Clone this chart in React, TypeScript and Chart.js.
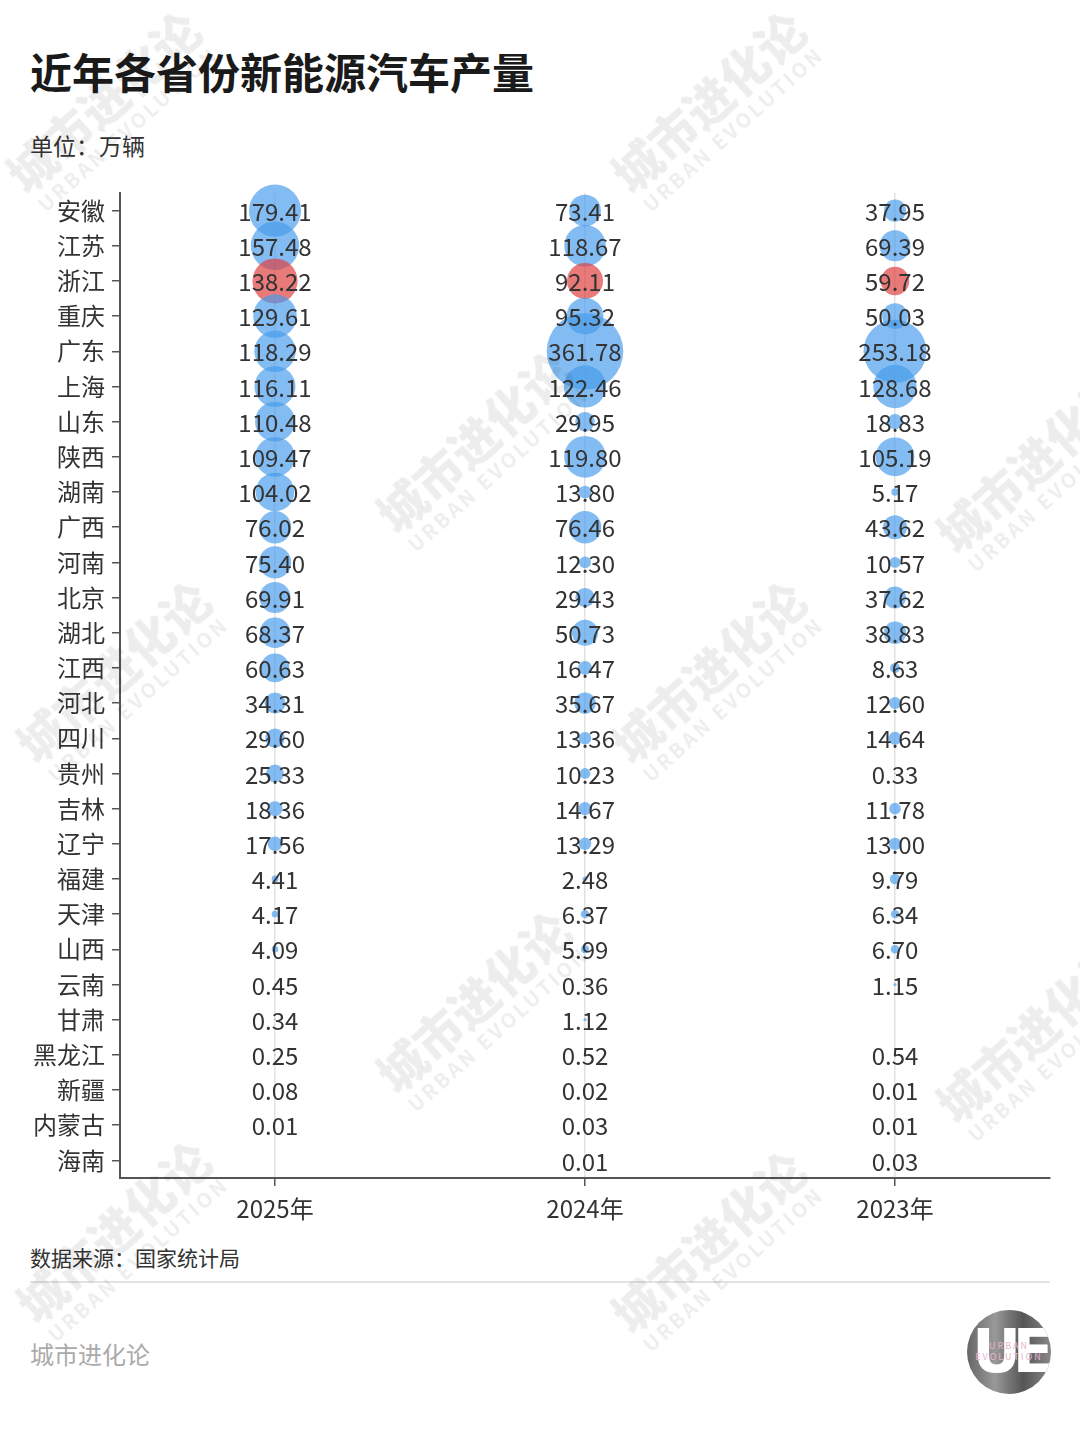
import React, { useEffect, useRef } from 'react';
import { Chart, registerables } from 'chart.js';

Chart.register(...registerables);

const FONT = '"Noto Sans CJK SC", "Noto Sans", sans-serif';

const provinces = ['安徽', '江苏', '浙江', '重庆', '广东', '上海', '山东', '陕西', '湖南', '广西', '河南', '北京', '湖北', '江西', '河北', '四川', '贵州', '吉林', '辽宁', '福建', '天津', '山西', '云南', '甘肃', '黑龙江', '新疆', '内蒙古', '海南'];
const years = ['2025年', '2024年', '2023年'];
const values2025: (number | null)[] = [179.41, 157.48, 138.22, 129.61, 118.29, 116.11, 110.48, 109.47, 104.02, 76.02, 75.40, 69.91, 68.37, 60.63, 34.31, 29.60, 25.33, 18.36, 17.56, 4.41, 4.17, 4.09, 0.45, 0.34, 0.25, 0.08, 0.01, null];
const values2024: (number | null)[] = [73.41, 118.67, 92.11, 95.32, 361.78, 122.46, 29.95, 119.80, 13.80, 76.46, 12.30, 29.43, 50.73, 16.47, 35.67, 13.36, 10.23, 14.67, 13.29, 2.48, 6.37, 5.99, 0.36, 1.12, 0.52, 0.02, 0.03, 0.01];
const values2023: (number | null)[] = [37.95, 69.39, 59.72, 50.03, 253.18, 128.68, 18.83, 105.19, 5.17, 43.62, 10.57, 37.62, 38.83, 8.63, 12.60, 14.64, 0.33, 11.78, 13.00, 9.79, 6.34, 6.70, 1.15, null, 0.54, 0.01, 0.01, 0.03];
const highlight = '浙江';

const BLUE = 'rgba(72,156,236,0.68)';
const RED = 'rgba(222,66,66,0.7)';

const radius = (v: number) => 1.5 * Math.pow(v, 0.55);

function makeData(vals: (number | null)[], year: string) {
  const out: any[] = [];
  vals.forEach((v, i) => {
    if (v == null) return;
    out.push({ x: year, y: provinces[i], r: radius(v), v, p: provinces[i] });
  });
  return out;
}

const labelPlugin = {
  id: 'valueLabels',
  afterDatasetsDraw(chart: any) {
    const ctx = chart.ctx;
    ctx.save();
    ctx.font = `24px ${FONT}`;
    ctx.fillStyle = '#333';
    ctx.textAlign = 'center';
    ctx.textBaseline = 'middle';
    chart.data.datasets.forEach((ds: any, di: number) => {
      const meta = chart.getDatasetMeta(di);
      meta.data.forEach((el: any, i: number) => {
        const raw = ds.data[i];
        ctx.fillText(raw.v.toFixed(2), el.x, el.y + 1);
      });
    });
    ctx.restore();
  },
};

const watermarks = [
  [110, 110], [715, 110], [480, 450], [1040, 470], [120, 680], [715, 680], [480, 1010], [1040, 1040], [120, 1240], [715, 1250],
];

export default function App() {
  const ref = useRef<HTMLCanvasElement>(null);
  useEffect(() => {
    if (!ref.current) return;
    const datasets = [
      { data: makeData(values2025, years[0]) },
      { data: makeData(values2024, years[1]) },
      { data: makeData(values2023, years[2]) },
    ].map((d) => ({
      ...d,
      backgroundColor: d.data.map((pt: any) => (pt.p === highlight ? RED : BLUE)),
      borderWidth: 0,
      clip: false as any,
    }));
    const chart = new Chart(ref.current, {
      type: 'bubble',
      data: { datasets } as any,
      plugins: [labelPlugin],
      options: {
        animation: false,
        responsive: false,
        devicePixelRatio: 1,
        events: [],
        layout: { autoPadding: false, padding: { left: 0, right: 30, top: 13, bottom: 12 } },
        plugins: { legend: { display: false }, tooltip: { enabled: false } },
        scales: {
          x: {
            type: 'category',
            labels: years,
            offset: true,
            afterFit: (s: any) => { s.height = 50; s.paddingLeft = 0; s.paddingRight = 0; },
            grid: { display: true, offset: false, color: '#e2e2e2', lineWidth: 1.5, tickColor: '#555', tickLength: 8, drawOnChartArea: true },
            border: { display: true, color: '#555', width: 2 },
            ticks: { font: { size: 24, family: FONT }, color: '#333', padding: 8 },
          },
          y: {
            type: 'category',
            labels: provinces,
            offset: true,
            afterFit: (s: any) => { s.width = 120; s.paddingTop = 0; s.paddingBottom = 0; },
            grid: { display: true, offset: false, drawOnChartArea: false, tickColor: '#555', tickLength: 8, lineWidth: 1.5 },
            border: { display: true, color: '#555', width: 2 },
            ticks: { font: { size: 24, family: FONT }, color: '#333', padding: 7, autoSkip: false },
          },
        },
      } as any,
    });
    return () => chart.destroy();
  }, []);

  return (
    <div style={{ position: 'absolute', left: 0, top: 0, width: 1080, height: 1440, background: '#fff', overflow: 'hidden', fontFamily: FONT }}>
      <div style={{ position: 'absolute', left: 30, top: 44, fontSize: 42, fontWeight: 700, color: '#1a1a1a', lineHeight: '54px', whiteSpace: 'nowrap' }}>近年各省份新能源汽车产量</div>
      <div style={{ position: 'absolute', left: 30, top: 130, fontSize: 23, color: '#333', lineHeight: '30px' }}>单位：万辆</div>
      <canvas ref={ref} width={1080} height={1060} style={{ position: 'absolute', left: 0, top: 180, width: 1080, height: 1060 }} />
      <div style={{ position: 'absolute', left: 30, top: 1243, fontSize: 21, color: '#333', lineHeight: '28px' }}>数据来源：国家统计局</div>
      <div style={{ position: 'absolute', left: 30, top: 1281, width: 1020, height: 2, background: '#e2e2e2' }} />
      <div style={{ position: 'absolute', left: 30, top: 1338, fontSize: 24, color: '#aaa', lineHeight: '32px' }}>城市进化论</div>
      <div style={{ position: 'absolute', left: 967, top: 1310, width: 84, height: 84, borderRadius: '50%', background: 'linear-gradient(90deg,#666,#999,#555,#888)', overflow: 'hidden' }}>
        <div style={{ position: 'absolute', left: 0, top: 6, width: 84, textAlign: 'center', color: '#fff', fontSize: 60, fontWeight: 900, lineHeight: '70px', fontFamily: '"DejaVu Sans", sans-serif', letterSpacing: -8 }}>UE</div>
        <div style={{ position: 'absolute', left: 0, top: 30, width: 84, textAlign: 'center', color: '#e9b3cf', fontSize: 9, lineHeight: '11px', letterSpacing: 2 }}>URBAN<br />EVOLUTION</div>
      </div>
      {watermarks.map(([x, y], i) => (
        <div key={i} style={{ position: 'absolute', left: x - 130, top: y - 40, width: 260, textAlign: 'center', transform: 'rotate(-42deg)', color: 'rgba(0,0,0,0.07)', pointerEvents: 'none', whiteSpace: 'nowrap' }}>
          <div style={{ fontSize: 48, fontWeight: 900, lineHeight: '54px' }}>城市进化论</div>
          <div style={{ fontSize: 20, fontWeight: 700, letterSpacing: 3, lineHeight: '24px' }}>URBAN EVOLUTION</div>
        </div>
      ))}
    </div>
  );
}
